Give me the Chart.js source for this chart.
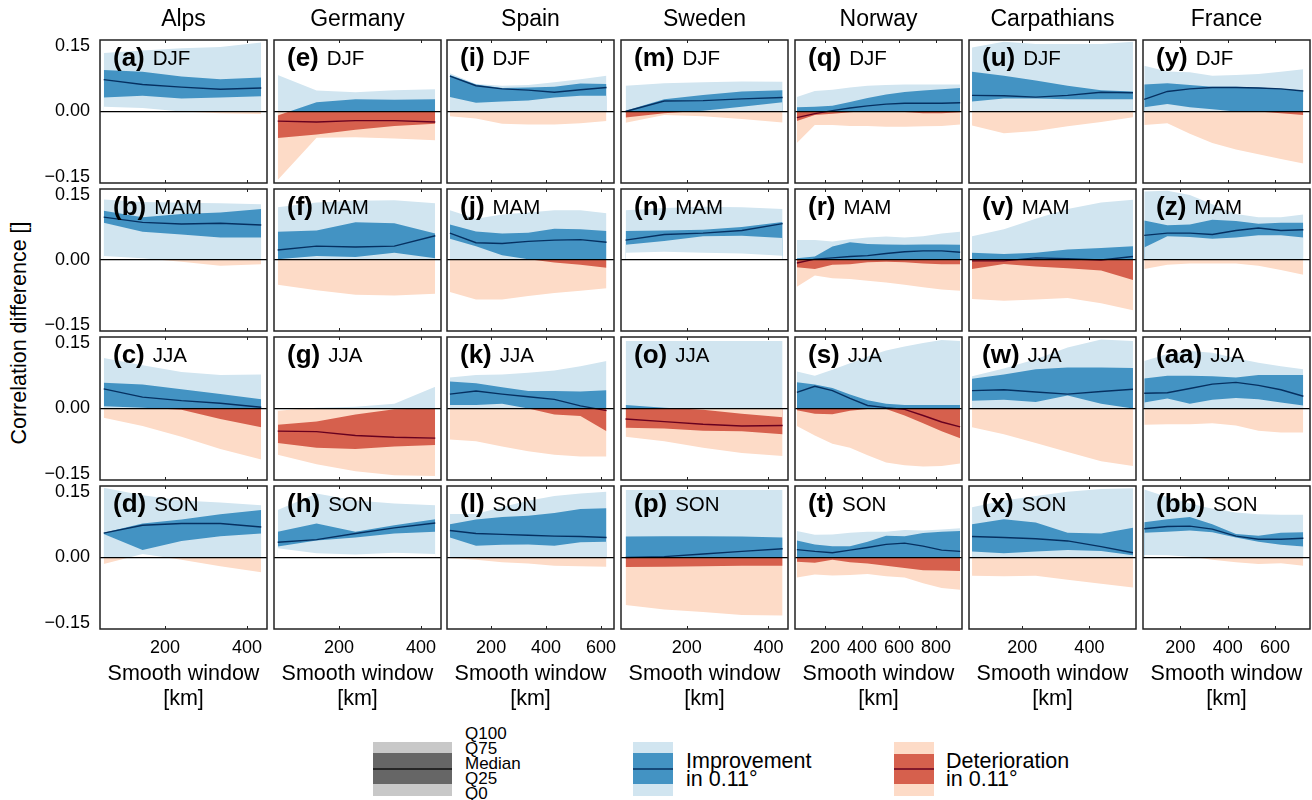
<!DOCTYPE html>
<html>
<head>
<meta charset="utf-8">
<title>Correlation difference</title>
<script src="https://cdn.jsdelivr.net/npm/chart.js"></script>
<style>
  html, body { margin: 0; padding: 0; background: #fff; }
  #page { position: relative; width: 1312px; height: 800px; overflow: hidden; font-family: 'Liberation Sans', Arial, sans-serif; color: #000; }
  #page canvas { position: absolute; }
  .txt { position: absolute; white-space: nowrap; line-height: 1; }
  #ylabel { left: 20px; top: 333px; font-size: 21.5px; transform: translate(-50%, -50%) rotate(-90deg); }
</style>
</head>
<body>
<div id="page"><div id="ylabel" class="txt">Correlation difference []</div></div>
<script>
// smooth windows [km] per region
const windowsAlps = [50, 145, 240, 335, 435];
const windowsGermany = [50, 145, 240, 335, 435];
const windowsSpain = [50, 145, 240, 335, 430, 525, 620];
const windowsSweden = [50, 145, 240, 335, 435];
const windowsNorway = [48, 145, 240, 335, 430, 530, 630, 730, 830, 930];
const windowsCarpathians = [50, 145, 240, 335, 435, 530];
const windowsFrance = [47, 145, 240, 335, 435, 530, 625, 720];

const ticksY = [-0.15, 0, 0.15];
const ticks200 = [200, 400];
const ticks200to600 = [200, 400, 600];
const ticks200to800 = [200, 400, 600, 800];

// every panel: Q100, Q75, median, Q25, Q0
const panelA = [
  [.134, .140, .145, .148, .158], [.095, .091, .080, .074, .078], [.073, .062, .056, .051, .054],
  [.032, .036, .030, .032, .035], [.011, .008, .000, -.004, -.006]];
const panelB = [
  [.140, .134, .132, .131, .129], [.114, .099, .106, .110, .118], [.099, .087, .083, .085, .081],
  [.086, .065, .059, .052, .052], [.009, .004, -.004, -.013, -.010]];
const panelC = [
  [.116, .099, .084, .077, .078], [.059, .055, .044, .033, .021], [.045, .026, .018, .012, .003],
  [.005, .002, -.003, -.024, -.043], [-.021, -.040, -.065, -.093, -.117]];
const panelD = [
  [.160, .143, .131, .126, .120], [.057, .078, .087, .099, .109], [.056, .074, .078, .078, .070],
  [.054, .017, .038, .049, .055], [-.015, .008, -.005, -.020, -.034]];

const panelE = [
  [.084, .048, .044, .049, .051], [-.009, .021, .028, .027, .028], [-.022, -.024, -.021, -.021, -.024],
  [-.061, -.053, -.042, -.033, -.028], [-.157, -.060, -.059, -.062, -.066]];
const panelF = [
  [.122, .133, .137, .138, .131], [.065, .068, .087, .085, .061], [.023, .032, .030, .032, .056],
  [.002, .009, .007, .017, .004], [-.057, -.070, -.080, -.082, -.078]];
const panelG = [
  [-.005, .002, .004, .011, .050], [-.037, -.030, -.014, -.002, .000], [-.052, -.053, -.062, -.066, -.068],
  [-.079, -.090, -.093, -.087, -.084], [-.106, -.128, -.144, -.153, -.155]];
const panelH = [
  [.109, .147, .131, .124, .120], [.059, .078, .059, .074, .088], [.035, .041, .055, .068, .079],
  [.025, .039, .046, .055, .059], [.021, .010, .007, .011, .008]];

const panelI = [
  [.088, .063, .059, .061, .067, .074, .082], [.084, .062, .054, .055, .057, .064, .063], [.081, .059, .052, .049, .044, .050, .055],
  [.033, .020, .023, .025, .032, .036, .036], [-.011, -.016, -.028, -.030, -.030, -.027, -.022]];
const panelJ = [
  [.115, .095, .105, .110, .115, .115, .108], [.082, .066, .061, .063, .072, .071, .067], [.062, .040, .038, .043, .046, .047, .041],
  [.049, .032, .011, .002, -.006, -.011, -.018], [-.074, -.091, -.091, -.083, -.076, -.071, -.065]];
const panelK = [
  [.071, .077, .078, .082, .087, .097, .109], [.062, .058, .049, .040, .040, .039, .042], [.033, .040, .033, .027, .021, .006, -.005],
  [.008, .008, .011, .000, -.014, -.017, -.052], [-.071, -.075, -.087, -.098, -.106, -.110, -.110]];
const panelL = [
  [.100, .100, .116, .130, .141, .147, .151], [.076, .087, .093, .096, .102, .111, .113], [.062, .055, .053, .051, .049, .048, .046],
  [.046, .027, .029, .030, .027, .035, .036], [-.002, -.005, -.011, -.014, -.019, -.020, -.021]];

const panelM = [
  [.059, .065, .067, .069, .068], [.002, .028, .038, .046, .049], [.000, .024, .025, .029, .032],
  [-.014, -.004, .002, .011, .021], [-.026, -.008, -.011, -.017, -.025]];
const panelN = [
  [.115, .120, .123, .122, .118], [.067, .068, .070, .076, .088], [.046, .059, .062, .068, .084],
  [.035, .044, .055, .056, .051], [.017, .019, .017, .015, .010]];
const panelO = [
  [.155, .155, .155, .155, .155], [.008, .002, -.003, -.012, -.020], [-.024, -.030, -.036, -.040, -.039],
  [-.044, -.046, -.051, -.052, -.059], [-.065, -.075, -.090, -.102, -.109]];
const panelP = [
  [.155, .155, .155, .155, .155], [.048, .049, .049, .048, .046], [.000, .002, .008, .014, .020],
  [-.022, -.021, -.020, -.019, -.019], [-.109, -.119, -.125, -.132, -.133]];

const panelQ = [
  [.033, .047, .050, .055, .059, .061, .062, .062, .062, .062], [.010, .011, .013, .022, .031, .039, .045, .048, .051, .054],
  [-.014, -.005, .002, .008, .013, .017, .019, .019, .019, .020], [-.022, -.008, -.005, -.002, .001, .001, -.001, -.004, -.004, -.002],
  [-.072, -.031, -.031, -.033, -.033, -.035, -.035, -.034, -.033, -.030]];
const panelR = [
  [.046, .046, .043, .048, .052, .054, .052, .055, .061, .065], [.004, .008, .031, .041, .037, .036, .035, .036, .036, .035],
  [-.007, .002, .005, .008, .010, .015, .019, .021, .021, .018], [-.017, -.021, -.011, -.010, -.005, -.004, -.005, -.008, -.010, -.010],
  [-.062, -.036, -.042, -.044, -.048, -.052, -.057, -.063, -.068, -.071]];
const panelS = [
  [.085, .075, .089, .104, .119, .133, .142, .150, .157, .155], [.060, .055, .047, .032, .019, .011, .008, .008, .008, .008],
  [.037, .051, .041, .023, .007, .002, -.002, -.016, -.031, -.042], [-.004, -.012, -.013, -.005, -.001, -.001, -.016, -.034, -.052, -.068],
  [-.040, -.062, -.081, -.090, -.107, -.124, -.130, -.133, -.132, -.126]];
const panelT = [
  [.061, .052, .053, .057, .059, .059, .063, .062, .064, .067], [.039, .030, .026, .026, .036, .050, .049, .056, .059, .061],
  [.018, .014, .011, .017, .023, .030, .033, .026, .017, .014], [-.010, -.012, -.005, -.011, -.014, -.019, -.024, -.029, -.030, -.031],
  [-.046, -.039, -.041, -.040, -.038, -.043, -.046, -.059, -.070, -.074]];

const panelU = [
  [.147, .160, .155, .155, .155, .160], [.091, .082, .071, .059, .049, .046], [.037, .036, .033, .037, .044, .043],
  [.023, .030, .030, .028, .028, .028], [-.032, -.050, -.045, -.034, -.024, -.013]];
const panelV = [
  [.055, .071, .095, .118, .133, .139], [.017, .014, .017, .024, .028, .032], [-.002, -.002, .005, .003, .000, .008],
  [-.021, -.009, -.015, -.019, -.024, -.046], [-.090, -.094, -.091, -.088, -.100, -.116]];
const panelW = [
  [.074, .092, .113, .140, .158, .155], [.068, .078, .090, .094, .094, .093], [.041, .043, .038, .033, .039, .044],
  [.018, .020, .015, .030, .011, .000], [-.043, -.059, -.079, -.100, -.121, -.132]];
const panelX = [
  [.115, .131, .141, .151, .157, .159], [.076, .088, .080, .057, .055, .068], [.048, .046, .043, .038, .025, .011],
  [.014, .010, .014, .017, .015, .005], [-.042, -.043, -.042, -.051, -.060, -.069]];

const panelY = [
  [.105, .092, .090, .082, .084, .086, .091, .097], [.062, .065, .061, .057, .057, .055, .052, .048], [.028, .046, .052, .055, .055, .054, .052, .047],
  [.010, .017, .010, .005, .000, .000, -.004, -.008], [-.031, -.027, -.051, -.072, -.087, -.098, -.109, -.119]];
const panelZ = [
  [.158, .160, .150, .129, .106, .099, .099, .105], [.091, .080, .082, .093, .090, .084, .086, .086], [.057, .062, .062, .059, .068, .074, .068, .070],
  [.029, .055, .053, .049, .052, .057, .057, .052], [-.021, -.011, -.008, -.008, -.008, -.013, -.023, -.034]];
const panelAA = [
  [.109, .125, .132, .128, .115, .105, .097, .090], [.069, .075, .075, .074, .071, .077, .077, .077], [.035, .036, .046, .056, .060, .053, .043, .028],
  [.014, .023, .011, .020, .024, .021, .014, .007], [-.037, -.036, -.036, -.034, -.039, -.051, -.055, -.055]];
const panelBB = [
  [.156, .139, .124, .112, .103, .099, .098, .098], [.081, .088, .093, .076, .054, .050, .057, .058], [.066, .071, .072, .065, .049, .042, .042, .044],
  [.057, .059, .062, .058, .046, .036, .029, .025], [.006, .005, .002, -.005, -.011, -.015, -.013, -.019]];

// legend swatches, same five quantiles with a constant value along x
const legendX = [0, 1];
const legendUp = [[54, 54], [43, 43], [27, 27], [12, 12], [0, 0]];
const legendDown = [[0, 0], [-12, -12], [-27, -27], [-42, -42], [-54, -54]];

const seasons = ['DJF', 'MAM', 'JJA', 'SON'];
const regions = [
  { name: 'Alps', x: windowsAlps, ticks: ticks200, min: 41, max: 449, letters: ['a', 'b', 'c', 'd'], panels: [panelA, panelB, panelC, panelD] },
  { name: 'Germany', x: windowsGermany, ticks: ticks200, min: 41, max: 449, letters: ['e', 'f', 'g', 'h'], panels: [panelE, panelF, panelG, panelH] },
  { name: 'Spain', x: windowsSpain, ticks: ticks200to600, min: 39.5, max: 647, letters: ['i', 'j', 'k', 'l'], panels: [panelI, panelJ, panelK, panelL] },
  { name: 'Sweden', x: windowsSweden, ticks: ticks200, min: 39, max: 448, letters: ['m', 'n', 'o', 'p'], panels: [panelM, panelN, panelO, panelP] },
  { name: 'Norway', x: windowsNorway, ticks: ticks200to800, min: 38, max: 940, letters: ['q', 'r', 's', 't'], panels: [panelQ, panelR, panelS, panelT] },
  { name: 'Carpathians', x: windowsCarpathians, ticks: ticks200, min: 41, max: 539, letters: ['u', 'v', 'w', 'x'], panels: [panelU, panelV, panelW, panelX] },
  { name: 'France', x: windowsFrance, ticks: ticks200to600, min: 42, max: 748, letters: ['y', 'z', 'aa', 'bb'], panels: [panelY, panelZ, panelAA, panelBB] }
];

const FONT = "'Liberation Sans', Arial, sans-serif";
const blueRed = { lightUp: '#d1e5f0', darkUp: '#4393c3', lineUp: '#053061', lightDown: '#fddbc7', darkDown: '#d6604d', lineDown: '#67001f' };
const greys = { lightUp: '#c8c8c8', darkUp: '#666666', lineUp: '#111111', lightDown: '#c8c8c8', darkDown: '#666666', lineDown: '#111111' };

const colLeft = [100, 274, 447, 621, 795, 969, 1143];
const rowTop = [40, 189, 337, 486];
const rowBottom = [183, 331, 480, 629];
const panelWidth = 167;

const page = document.getElementById('page');

function addCanvas(left, top, width, height) {
  const c = document.createElement('canvas');
  c.width = width;
  c.height = height;
  c.style.left = left + 'px';
  c.style.top = top + 'px';
  c.style.width = width + 'px';
  c.style.height = height + 'px';
  page.appendChild(c);
  return c;
}

// median line changes colour where it crosses zero
function medianColor(ctx, pal) {
  const chart = ctx.chart;
  const area = chart.chartArea;
  if (!area) return pal.lineUp;
  const zero = chart.scales.y.getPixelForValue(0);
  const f = Math.min(1, Math.max(0, (zero - area.top) / (area.bottom - area.top)));
  const g = chart.ctx.createLinearGradient(0, area.top, 0, area.bottom);
  g.addColorStop(0, pal.lineUp);
  g.addColorStop(f, pal.lineUp);
  g.addColorStop(f, pal.lineDown);
  g.addColorStop(1, pal.lineDown);
  return g;
}

// bands are painted outward-in from zero, upper half and lower half separately
function bandDatasets(xs, q, pal) {
  const [q100, q75, q50, q25, q0] = q;
  const none = 'rgba(0,0,0,0)';
  const band = (vals, above, below) => ({
    data: xs.map((x, i) => ({ x: x, y: vals[i] })),
    borderWidth: 0,
    borderColor: none,
    pointRadius: 0,
    tension: 0,
    fill: { target: 'origin', above: above, below: below }
  });
  const layers = [
    band(q100, pal.lightUp, none),
    band(q75, pal.darkUp, none),
    band(q25, pal.lightUp, none),
    band(q0, '#ffffff', pal.lightDown),
    band(q25, none, pal.darkDown),
    band(q75, none, pal.lightDown),
    band(q100, none, '#ffffff'),
    {
      data: xs.map((x, i) => ({ x: x, y: q50[i] })),
      borderWidth: 1.4,
      borderColor: ctx => medianColor(ctx, pal),
      pointRadius: 0,
      tension: 0,
      fill: false
    }
  ];
  // chart.js draws the first dataset last
  return layers.reverse();
}

function panelDecor(letter, season) {
  return {
    id: 'panelDecor',
    afterDraw(chart) {
      const { ctx, chartArea: a, scales } = chart;
      ctx.save();
      ctx.strokeStyle = '#222';
      ctx.lineWidth = 1.5;
      ctx.strokeRect(a.left, a.top, a.right - a.left, a.bottom - a.top);
      ctx.beginPath();
      scales.x.ticks.forEach(t => {
        const px = Math.round(scales.x.getPixelForValue(t.value)) + 0.5;
        ctx.moveTo(px, a.top);
        ctx.lineTo(px, a.top + 3);
        ctx.moveTo(px, a.bottom);
        ctx.lineTo(px, a.bottom - 3);
      });
      ctx.lineWidth = 1;
      ctx.stroke();
      ctx.fillStyle = '#000';
      ctx.textBaseline = 'alphabetic';
      ctx.textAlign = 'left';
      ctx.font = 'bold 26px ' + FONT;
      const tag = '(' + letter + ')';
      const tx = a.left + 13;
      const ty = a.top + 26;
      ctx.fillText(tag, tx, ty);
      const w = ctx.measureText(tag).width;
      ctx.font = '20.5px ' + FONT;
      ctx.fillText(season, tx + w + 8, ty - 1);
      ctx.restore();
    }
  };
}

regions.forEach((reg, col) => {
  reg.panels.forEach((q, row) => {
    const padL = col === 0 ? colLeft[0] : 2;
    const padT = row === 0 ? rowTop[0] : 2;
    const padB = row === 3 ? 84 : 2;
    const h = rowBottom[row] - rowTop[row];
    const canvas = addCanvas(colLeft[col] - padL, rowTop[row] - padT, padL + panelWidth + 2, padT + h + padB);
    new Chart(canvas, {
      type: 'line',
      data: { datasets: bandDatasets(reg.x, q, blueRed) },
      options: {
        responsive: false,
        animation: false,
        events: [],
        layout: { autoPadding: false, padding: { top: row === 0 ? 0 : 2, right: 2, left: 0, bottom: 0 } },
        plugins: {
          legend: { display: false },
          tooltip: { enabled: false },
          title: {
            display: row === 0,
            text: reg.name,
            fullSize: false,
            color: '#000',
            font: { family: FONT, size: 23, weight: 'normal', lineHeight: 1.2 },
            padding: { top: 6, bottom: 40 - 6 - 27.6 }
          }
        },
        scales: {
          x: {
            type: 'linear',
            min: reg.min,
            max: reg.max,
            afterBuildTicks: s => { s.ticks = reg.ticks.map(v => ({ value: v })); },
            afterFit: s => { s.height = padB; s.paddingLeft = 0; s.paddingRight = 0; },
            grid: { display: false },
            border: { display: false },
            ticks: {
              display: row === 3,
              autoSkip: false,
              maxRotation: 0,
              padding: 0,
              color: '#000',
              font: { family: FONT, size: 18 },
              callback: v => String(v)
            },
            title: {
              display: row === 3,
              text: ['Smooth window', '[km]'],
              color: '#000',
              font: { family: FONT, size: 21.5, lineHeight: 1.14 },
              padding: { top: 0, bottom: 2 }
            }
          },
          y: {
            min: -0.164,
            max: 0.164,
            afterBuildTicks: s => { s.ticks = ticksY.map(v => ({ value: v })); },
            afterFit: s => { s.width = padL; s.paddingTop = 0; s.paddingBottom = 0; },
            border: { display: false },
            grid: {
              z: 1,
              drawTicks: false,
              lineWidth: 1.3,
              color: c => (c.tick && c.tick.value === 0 ? '#000' : 'rgba(0,0,0,0)')
            },
            ticks: {
              display: col === 0,
              autoSkip: false,
              padding: 10,
              color: '#000',
              font: { family: FONT, size: 18 },
              callback: v => v.toFixed(2).replace('-', '\u2212')
            }
          }
        }
      },
      plugins: [panelDecor(reg.letters[row], seasons[row])]
    });
  });
});

// legend: three small charts with hidden axes
function addSwatch(left, width, q, pal, yMin, yMax) {
  const canvas = addCanvas(left, 742, width, 54);
  new Chart(canvas, {
    type: 'line',
    data: { datasets: bandDatasets(legendX, q, pal) },
    options: {
      responsive: false,
      animation: false,
      events: [],
      layout: { autoPadding: false },
      plugins: { legend: { display: false }, tooltip: { enabled: false } },
      scales: {
        x: { type: 'linear', min: 0, max: 1, display: false },
        y: { min: yMin, max: yMax, display: false }
      }
    }
  });
}
addSwatch(373, 79, legendUp, greys, 0, 54);
addSwatch(633, 40, legendUp, blueRed, 0, 54);
addSwatch(894, 40, legendDown, blueRed, -54, 0);

const legendTexts = [
  ['Q100', 465, 733, 17], ['Q75', 465, 748, 17], ['Median', 465, 763, 17], ['Q25', 465, 778, 17], ['Q0', 465, 793, 17],
  ['Improvement', 686, 762, 21.5], ['in 0.11°', 686, 780, 21.5],
  ['Deterioration', 946, 762, 21.5], ['in 0.11°', 946, 780, 21.5]
];
legendTexts.forEach(([text, x, y, size]) => {
  const d = document.createElement('div');
  d.className = 'txt';
  d.textContent = text;
  d.style.left = x + 'px';
  d.style.top = y + 'px';
  d.style.fontSize = size + 'px';
  d.style.transform = 'translateY(-50%)';
  page.appendChild(d);
});
</script>
</body>
</html>
